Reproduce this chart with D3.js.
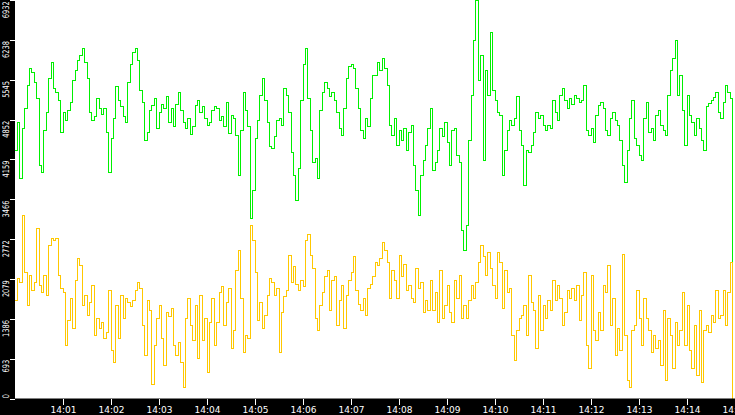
<!DOCTYPE html>
<html>
<head>
<meta charset="utf-8" />
<title>two series</title>
<script src="https://cdn.jsdelivr.net/npm/d3@7"></script>
<style>
  html, body { margin: 0; padding: 0; background: #fff; }
  svg { display: block; }
  text { font-family: "DejaVu Sans", Verdana, sans-serif; }
</style>
</head>
<body>
<svg id="mainsvg" width="735" height="415"></svg>
<script>
// one sample every 3 s, from 14:00:00
const startLabel = "14:00";
const endLabel = "14:15";
const sampleSeconds = 3;

const greenValues = [
  4316, 4804, 3828, 4700, 5048, 5450, 5746, 5676, 5502, 5223,
  4054, 3932, 4665, 4979, 5572, 5851, 5397, 5328, 5188, 4630,
  4979, 4839, 5014, 5153, 5537, 5711, 5886, 5973, 6095, 5851,
  5572, 4979, 4839, 4909, 5223, 5048, 4944, 5048, 4630, 3932,
  4525, 4874, 5432, 5188, 5083, 4909, 4804, 5502, 5816, 6025,
  6095, 5886, 5362, 5153, 4490, 4630, 5014, 5101, 5223, 4700,
  4979, 5118, 5048, 5258, 4804, 5048, 4735, 5118, 5328, 5014,
  4804, 4700, 4874, 4595, 4735, 5101, 5188, 4979, 5083, 4874,
  4752, 4804, 5014, 5083, 5048, 4839, 4909, 4735, 5153, 4612,
  4926, 4874, 4578, 3880, 4665, 5328, 5014, 4735, 3130, 3618,
  4525, 4839, 5275, 5572, 5188, 4804, 4386, 4351, 4560, 4839,
  4874, 4752, 5397, 5275, 4979, 4281, 3880, 3444, 4002, 5188,
  5816, 6095, 5223, 4665, 4107, 4176, 3828, 5014, 5328, 5502,
  5397, 5258, 5328, 5188, 4979, 4700, 4578, 5048, 5572, 5781,
  5816, 5746, 5397, 5048, 4665, 4525, 4874, 4735, 5223, 5624,
  5624, 5851, 5711, 5920, 5746, 5450, 4752, 4578, 4874, 4403,
  4665, 4490, 4700, 4316, 4630, 4752, 4054, 3618, 3182, 3880,
  4142, 4403, 4700, 5048, 3967, 4107, 4316, 4700, 4560, 4804,
  4456, 4054, 4665, 4700, 4229, 4107, 2921, 2572, 3008, 4490,
  5275, 6234, 6932, 5537, 5973, 4142, 5711, 5275, 6374, 5362,
  5188, 4979, 4926, 3880, 4316, 4665, 4839, 4752, 4874, 5258,
  4665, 4403, 3706, 4316, 4281, 4403, 4630, 4979, 4874, 4926,
  4752, 4665, 4752, 4700, 5188, 4979, 4839, 5275, 5397, 5188,
  5048, 5223, 5118, 5275, 5223, 5153, 5188, 5450, 4665, 4578,
  4700, 4456, 4926, 5101, 5153, 5048, 4665, 4578, 4874, 4979,
  4839, 4752, 4490, 4054, 3758, 4316, 4874, 5188, 4525, 4403,
  4229, 4142, 4874, 5153, 4630, 4700, 4490, 4926, 5014, 4752,
  4665, 4578, 5275, 5711, 5920, 6234, 5275, 5624, 5014, 4403,
  5275, 4926, 4804, 4578, 4874, 4700, 4490, 4316, 5083, 5136,
  5188, 5240, 5328, 4979, 4874, 5153, 5450, 5328, 5223, 1124
];

const yellowValues = [
  1700, 2084, 2014, 3182, 2188, 1613, 2136, 1874, 2014, 2956,
  1962, 1840, 2136, 1787, 2659, 2781, 2746, 2781, 2136, 1909,
  1840, 915, 1351, 1735, 1212, 2049, 2432, 2310, 1613, 1787,
  1438, 1665, 1962, 1090, 1386, 1212, 1316, 1037, 1142, 1874,
  828, 619, 1613, 1037, 1787, 1386, 1735, 1665, 1595, 1700,
  1874, 2014, 1909, 1264, 741, 1700, 1526, 252, 915, 1386,
  1613, 1037, 566, 1491, 1421, 1560, 915, 741, 968, 619,
  183, 1386, 1735, 1264, 1002, 1613, 688, 1787, 1002, 1386,
  444, 1316, 1735, 915, 1316, 1840, 1944, 1264, 1665, 1909,
  863, 1177, 2223, 2572, 1735, 793, 1090, 1037, 3008, 2746,
  2188, 1351, 1665, 1212, 1438, 1787, 2084, 2014, 1787, 1909,
  793, 1491, 1770, 1874, 2485, 2014, 2293, 1979, 1874, 2049,
  1944, 2746, 2851, 2485, 2258, 1386, 1177, 1613, 1840, 2119,
  2223, 1526, 2049, 2119, 1264, 1700, 1962, 1212, 1787, 2049,
  2188, 2467, 1874, 1630, 1526, 1735, 1438, 1909, 1979, 2119,
  2363, 2310, 2432, 2712, 2572, 2363, 1735, 2223, 2049, 1735,
  2485, 2119, 2328, 1874, 1962, 1735, 1665, 2258, 1909, 2014,
  1491, 1700, 1526, 2049, 1526, 1840, 1316, 2223, 1386, 1613,
  1962, 1491, 1316, 2049, 1735, 2136, 1386, 1613, 1386, 1700,
  1962, 1735, 2014, 2363, 2659, 2467, 2136, 2537, 2258, 1962,
  1735, 2537, 2363, 1560, 2223, 1840, 1909, 1090, 654, 1177,
  1386, 1438, 1613, 1090, 2136, 1665, 1526, 863, 1787, 1177,
  1613, 1386, 1700, 1526, 2049, 1700, 1962, 1735, 1264, 1491,
  1874, 1735, 1909, 1700, 1962, 1351, 1787, 2188, 915, 514,
  2136, 1177, 1002, 1491, 1177, 1962, 1840, 2310, 1264, 1735,
  741, 1212, 828, 2502, 1090, 305, 200, 1177, 1264, 1874,
  1386, 915, 1735, 1386, 1177, 793, 1090, 863, 1002, 566,
  1526, 305, 1386, 1090, 514, 1316, 915, 1177, 1840, 915,
  1613, 828, 514, 1264, 392, 1526, 270, 1177, 1264, 1142,
  1438, 1316, 1874, 1386, 1438, 1874, 1264, 1840, 2363, 0
];

const xTickLabels = ["14:01", "14:02", "14:03", "14:04", "14:05", "14:06", "14:07",
  "14:08", "14:09", "14:10", "14:11", "14:12", "14:13", "14:14", "14:15"];
const yTickValues = [0, 693.2, 1386.4, 2079.6, 2772.8, 3466, 4159.2, 4852.4, 5545.6, 6238.8, 6932];

const svg = d3.select("#mainsvg");
const width = +svg.attr("width");
const height = +svg.attr("height");
const margin = { top: 0, right: 0, bottom: 16.5, left: 15 };
const plotBottom = height - margin.bottom;

const parseTime = d3.timeParse("%H:%M");
const t0 = parseTime(startLabel);
const timeOf = (i) => new Date(t0.getTime() + i * sampleSeconds * 1000);

const xScale = d3.scaleTime()
  .domain([t0, parseTime(endLabel)])
  .range([margin.left, width]);
const yScale = d3.scaleLinear()
  .domain([0, d3.max(greenValues.concat(yellowValues))])
  .range([plotBottom, margin.top]);

svg.append("rect").attr("width", width).attr("height", height).attr("fill", "#fff");

const line = d3.line()
  .x((d, i) => xScale(timeOf(i)))
  .y((d) => yScale(d))
  .curve(d3.curveStepAfter);

const series = [
  { values: greenValues, color: "#00f000" },
  { values: yellowValues, color: "#ffc800" }
];
svg.selectAll(".serie")
  .data(series)
  .join("path")
  .attr("class", "serie")
  .attr("d", (d) => line(d.values))
  .attr("fill", "none")
  .attr("stroke", (d) => d.color)
  .attr("stroke-width", 1)
  .attr("shape-rendering", "crispEdges");

// black axis bands
svg.append("rect")
  .attr("x", 0).attr("y", 0)
  .attr("width", margin.left).attr("height", height)
  .attr("fill", "#000");
svg.append("rect")
  .attr("x", 0).attr("y", plotBottom)
  .attr("width", width).attr("height", height - plotBottom)
  .attr("fill", "#000");

// y axis
const yAxisGroup = svg.append("g")
  .attr("transform", `translate(${margin.left},0)`)
  .call(d3.axisLeft(yScale)
    .tickValues(yTickValues)
    .tickSize(5)
    .tickFormat((d) => Math.floor(d + 1e-6)));
yAxisGroup.select(".domain").remove();
yAxisGroup.selectAll(".tick line").attr("stroke", "#fff").attr("shape-rendering", "crispEdges");
yAxisGroup.selectAll(".tick text")
  .attr("fill", "#fff")
  .attr("font-size", 9)
  .attr("dy", null)
  .attr("x", (d) => (d === 0 ? 1 : -1))
  .attr("y", -6)
  .attr("text-anchor", (d) => (d === 0 ? "start" : "end"))
  .attr("transform", "rotate(-90) scale(0.74,1)");

// x axis
const xAxisGroup = svg.append("g")
  .attr("transform", `translate(0,${plotBottom})`)
  .call(d3.axisBottom(xScale)
    .tickValues(xTickLabels.map(parseTime))
    .tickSize(6)
    .tickFormat(d3.timeFormat("%H:%M")));
xAxisGroup.select(".domain").remove();
xAxisGroup.selectAll(".tick line").attr("stroke", "#fff").attr("shape-rendering", "crispEdges");
xAxisGroup.selectAll(".tick text")
  .attr("fill", "#fff")
  .attr("font-size", 9)
  .attr("dy", null)
  .attr("y", 14.5);
</script>
</body>
</html>
